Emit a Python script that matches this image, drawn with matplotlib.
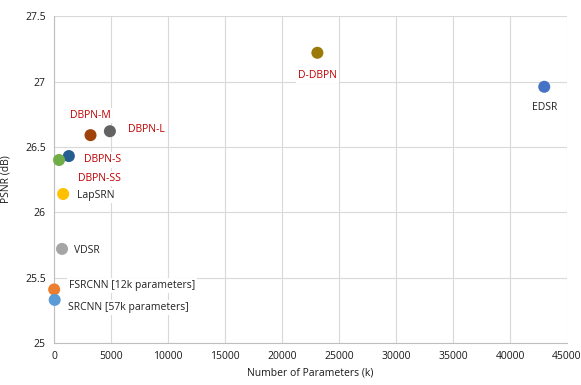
import matplotlib.pyplot as plt

plt.rcParams['font.family'] = ['Open Sans', 'DejaVu Sans']

names = ['DBPN-M', 'DBPN-L', 'DBPN-S', 'DBPN-SS', 'LapSRN', 'VDSR',
         'FSRCNN', 'SRCNN', 'D-DBPN', 'EDSR']
params = [3200, 4900, 1300, 440, 800, 700, 12, 57, 23100, 43000]
psnr = [26.59, 26.62, 26.43, 26.40, 26.14, 25.72, 25.41, 25.33, 27.22, 26.96]
colors = ['#a0430a', '#636363', '#255e91', '#70ad47', '#ffc000', '#a5a5a5',
          '#ed7d31', '#5b9bd5', '#9c7a08', '#4472c4']

# label text, position, alignment, colour
labels = [
    ('DBPN-M', 3150, 26.74, 'center', '#c00000'),
    ('DBPN-L', 6500, 26.63, 'left', '#c00000'),
    ('DBPN-S', 2650, 26.40, 'left', '#c00000'),
    ('DBPN-SS', 2100, 26.26, 'left', '#c00000'),
    ('LapSRN', 2000, 26.13, 'left', '#222222'),
    ('VDSR', 1750, 25.71, 'left', '#222222'),
    ('FSRCNN [12k parameters]', 1300, 25.44, 'left', '#222222'),
    ('SRCNN [57k parameters]', 1200, 25.27, 'left', '#222222'),
    ('D-DBPN', 23100, 27.05, 'center', '#c00000'),
    ('EDSR', 43000, 26.80, 'center', '#222222'),
]

fig = plt.figure(figsize=(5.81, 3.85), dpi=100)
ax = fig.add_axes([0.093, 0.109, 0.883, 0.849])

ax.scatter(params, psnr, s=75, c=colors, zorder=3, linewidths=0, clip_on=False)

for txt, x, y, ha, col in labels:
    ax.text(x, y, txt, ha=ha, va='center', fontsize=7.5, color=col, zorder=4,
            bbox=dict(facecolor='white', edgecolor='none', pad=1.5))

ax.set_xlim(0, 45000)
ax.set_ylim(25, 27.5)
ax.set_xticks(range(0, 45001, 5000))
ax.set_yticks([25, 25.5, 26, 26.5, 27, 27.5])
ax.set_yticklabels(['25', '25.5', '26', '26.5', '27', '27.5'])
ax.grid(True, color='#d9d9d9', linewidth=0.8)
ax.set_axisbelow(True)
for side in ['top', 'right']:
    ax.spines[side].set_visible(False)
for side in ['left', 'bottom']:
    ax.spines[side].set_color('#bfbfbf')
    ax.spines[side].set_linewidth(0.8)
ax.tick_params(length=0, labelsize=7.5, colors='#1a1a1a', pad=6)

ax.set_xlabel('Number of Parameters (k)', fontsize=7.5, color='#1a1a1a', labelpad=4)
ax.set_ylabel('PSNR (dB)', fontsize=7.5, color='#1a1a1a', labelpad=10)

fig.savefig('out.png', dpi=100)
